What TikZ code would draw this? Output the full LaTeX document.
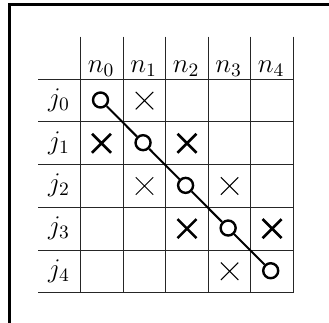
\RequirePackage{fix-cm}
\documentclass[tikz,border=0pt]{standalone}
\usetikzlibrary{shapes.misc}
\begin{document}
\begin{tikzpicture}[x=0.5pt,y=-0.5pt,
  gridline/.style={line width=0.5pt, black!85},
  frameline/.style={line width=1.5pt},
  lbl/.style={anchor=base, inner sep=0pt, font=\fontsize{13.5}{16}\selectfont},
  ring/.style={circle, draw, line width=1.2pt, fill=white, minimum size=7.5pt, inner sep=0pt},
  thincross/.style={cross out, draw, line width=0.5pt, minimum size=8.2pt, inner sep=0pt},
  thickcross/.style={cross out, draw, line width=1.3pt, minimum size=8.2pt, inner sep=0pt},
  diag/.style={line width=1pt}]
\useasboundingbox (0,0) rectangle (329,323);
% frame
\draw[frameline] (335,4.5) -- (10,4.5) -- (10,330);
% grid
\foreach \k in {0,...,5} {
  \draw[gridline] (80.7+42.55*\k,36.7) -- (80.7+42.55*\k,292.7);
  \draw[gridline] (38.3,79.3+42.68*\k) -- (293.4,79.3+42.68*\k);
}
% column labels
\foreach \i in {0,...,4} {
  \node[lbl] (n\i) at (101+42.55*\i,72.5) {$n_{\i}$};
  \node[lbl] (j\i) at (59,106.5+42.68*\i) {$j_{\i}$};
}
% circles on the diagonal
\foreach \i in {0,...,4} {
  \node[ring] (c\i) at (100.5+42.55*\i,100+42.68*\i) {};
}
\draw[diag] (c0) -- (c1) -- (c2) -- (c3) -- (c4);
% crosses
\node[thincross] (x01) at (144.5,100.6) {};
\node[thincross] (x21) at (144.5,186.0) {};
\node[thincross] (x23) at (229.6,186.0) {};
\node[thincross] (x43) at (229.6,271.3) {};
\node[thickcross] (y10) at (101.5,143.3) {};
\node[thickcross] (y12) at (187.0,143.3) {};
\node[thickcross] (y32) at (187.0,228.6) {};
\node[thickcross] (y34) at (272.1,228.6) {};
\end{tikzpicture}
\end{document}
